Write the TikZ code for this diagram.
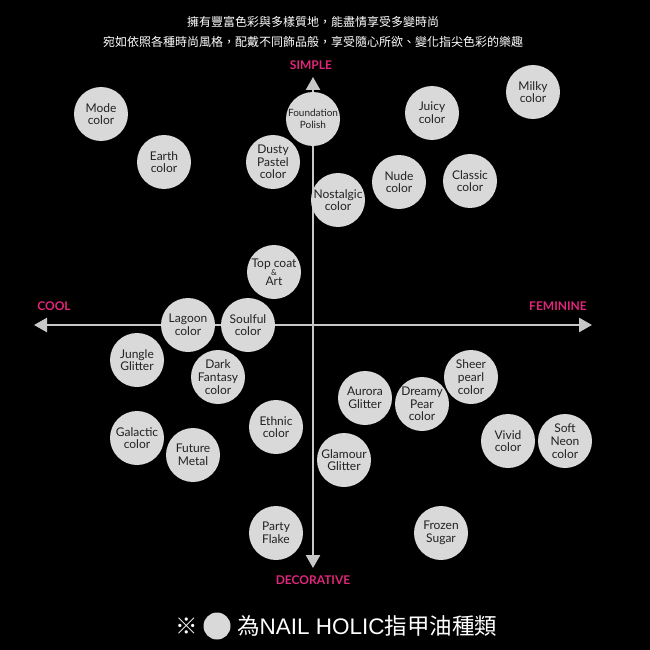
\documentclass[tikz,border=0pt]{standalone}
\usepackage{fontspec}
\newfontfamily\cjk{Noto Sans CJK TC}
\newfontfamily\lato{Lato}
\newfontfamily\helv{Liberation Sans}
\usetikzlibrary{arrows.meta}
\definecolor{dotgray}{HTML}{D9D9D9}
\definecolor{axisgray}{HTML}{C8C8C8}
\definecolor{pinklabel}{HTML}{E0267A}
\definecolor{dottext}{HTML}{222222}
\tikzset{
  dot/.style={circle,fill=dotgray,minimum size=54pt,inner sep=0pt,align=center,text=dottext,
    font=\lato\fontsize{12}{12.7}\selectfont},
  smalldot/.style={dot,font=\lato\fontsize{10}{12}\selectfont},
  axisline/.style={axisgray,line width=2.5pt,{Triangle[length=13pt,width=14pt]}-{Triangle[length=13pt,width=14pt]}},
  axislabel/.style={text=pinklabel,font=\lato\bfseries\fontsize{12}{14}\selectfont,inner sep=0pt},
  toptext/.style={text=white,font=\cjk\fontsize{12}{14}\selectfont,inner sep=0pt},
  legend/.style={text=white,font=\cjk\fontsize{22.5}{26}\selectfont,inner sep=0pt}
}
\begin{document}
\begin{tikzpicture}[x=1pt,y=-1pt]
\fill[black] (0,0) rectangle (650,650);
\useasboundingbox (0,0) rectangle (650,650);
% top text
\node[toptext] (t1) at (313,22) {擁有豐富色彩與多樣質地，能盡情享受多變時尚};
\node[toptext] (t2) at (313,42) {宛如依照各種時尚風格，配戴不同飾品般，享受隨心所欲、變化指尖色彩的樂趣};
% axes
\coordinate (L) at (34,325);
\coordinate (R) at (592,325);
\coordinate (T) at (313,77);
\coordinate (B) at (313,568);
\draw[axisline] (L) -- (R);
\draw[axisline] (B) -- (T);
\node[axislabel] (simple) at (311,65) {SIMPLE};
\node[axislabel] (cool) at (54,306) {COOL};
\node[axislabel] (fem) at (558,306) {FEMININE};
\node[axislabel] (deco) at (313,580) {DECORATIVE};
% circles
\node[dot] (mode) at (101,114) {Mode\\color};
\node[dot] (earth) at (164,162) {Earth\\color};
\node[smalldot] (found) at (313,119) {Foundation\\Polish};
\node[dot] (dusty) at (273,162) {Dusty\\Pastel\\color};
\node[dot] (nost) at (338,200) {Nostalgic\\color};
\node[dot] (juicy) at (432,113) {Juicy\\color};
\node[dot] (milky) at (533,92) {Milky\\color};
\node[dot] (nude) at (399,182) {Nude\\color};
\node[dot] (classic) at (470,181) {Classic\\color};
\node[dot] (topcoat) at (274,272) {Top coat\\[-4pt]{\fontsize{8}{8}\selectfont\&}\\[-3pt]Art};
\node[dot] (lagoon) at (188,325) {Lagoon\\color};
\node[dot] (soulful) at (248,325) {Soulful\\color};
\node[dot] (jungle) at (137,360) {Jungle\\Glitter};
\node[dot] (dark) at (218,377) {Dark\\Fantasy\\color};
\node[dot] (aurora) at (365,398) {Aurora\\Glitter};
\node[dot] (dreamy) at (422,404) {Dreamy\\Pear\\color};
\node[dot] (sheer) at (471,377) {Sheer\\pearl\\color};
\node[dot] (vivid) at (508,441) {Vivid\\color};
\node[dot] (soft) at (565,441) {Soft\\Neon\\color};
\node[dot] (galactic) at (137,438) {Galactic\\color};
\node[dot] (future) at (193,455) {Future\\Metal};
\node[dot] (ethnic) at (276,427) {Ethnic\\color};
\node[dot] (glamour) at (344,460) {Glamour\\Glitter};
\node[dot] (party) at (276,533) {Party\\Flake};
\node[dot] (frozen) at (441,533) {Frozen\\Sugar};
% legend
\node[legend] (mark) at (187,626) {※};
\node[circle,fill=dotgray,minimum size=27pt,inner sep=0pt] (ldot) at (217,626) {};
\node[legend,anchor=west] (ltext) at (237,626) {為{\helv NAIL HOLIC}指甲油種類};
\end{tikzpicture}
\end{document}
